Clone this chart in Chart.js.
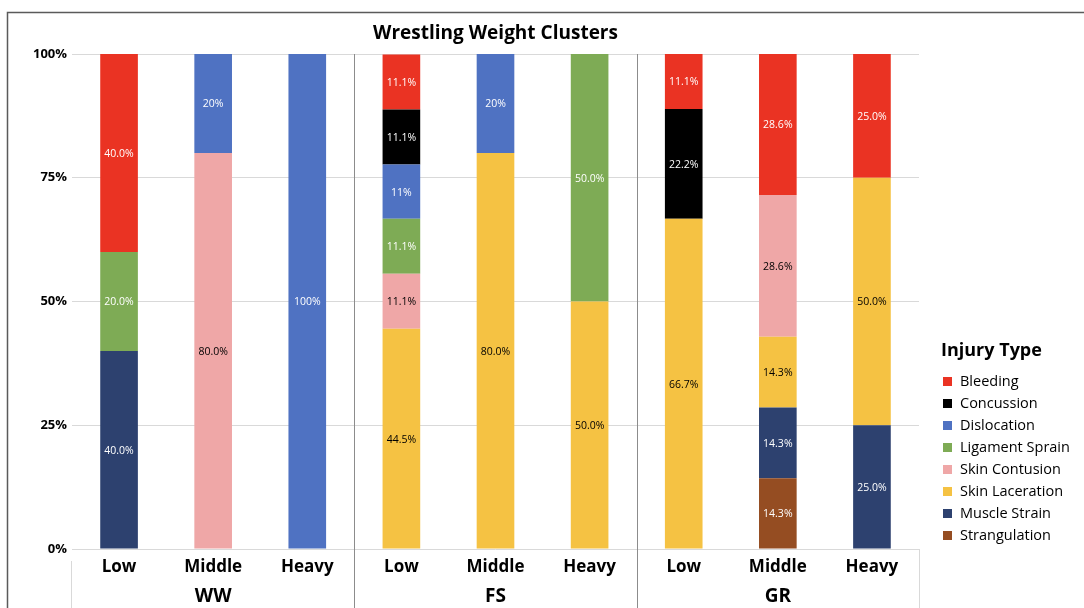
<!DOCTYPE html>
<html><head><meta charset="utf-8">
<script src="https://cdn.jsdelivr.net/npm/chart.js@4.4.1/dist/chart.umd.min.js"></script>
<style>html,body{margin:0;padding:0;background:#fff;overflow:hidden}#wrap{position:absolute;left:0;top:0;width:1084px;height:608px}</style>
</head><body><div id="wrap"><canvas id="c" width="1084" height="608"></canvas></div>
<script>
const categories = ['Low','Middle','Heavy','Low','Middle','Heavy','Low','Middle','Heavy'];
const groups = ['WW','FS','GR'];
const yTicks = [0,25,50,75,100];

const bleeding      = [40, null, null, 11.1, null, null, 11.1, 28.6, 25];
const concussion    = [null, null, null, 11.1, null, null, 22.2, null, null];
const dislocation   = [null, 20, 100, 11, 20, null, null, null, null];
const ligament      = [20, null, null, 11.1, null, 50, null, null, null];
const contusion     = [null, 80, null, 11.1, null, null, null, 28.6, null];
const laceration    = [null, null, null, 44.5, 80, 50, 66.7, 14.3, 50];
const muscle        = [40, null, null, null, null, null, null, 14.3, 25];
const strangulation = [null, null, null, null, null, null, null, 14.3, null];

const FONT = "'Open Sans', 'DejaVu Sans', sans-serif";

// stacking order: first = bottom
const series = [
  {label:'Strangulation',   data:strangulation, color:'#954D22', lbl:'#ffffff', dec:1},
  {label:'Muscle Strain',   data:muscle,        color:'#2D416F', lbl:'#ffffff', dec:1},
  {label:'Skin Laceration', data:laceration,    color:'#F5C243', lbl:'#000000', dec:1},
  {label:'Skin Contusion',  data:contusion,     color:'#EFA7A7', lbl:'#000000', dec:1},
  {label:'Ligament Sprain', data:ligament,      color:'#7EAB55', lbl:'#ffffff', dec:1},
  {label:'Dislocation',     data:dislocation,   color:'#4F72C2', lbl:'#ffffff', dec:0},
  {label:'Concussion',      data:concussion,    color:'#000000', lbl:'#ffffff', dec:1},
  {label:'Bleeding',        data:bleeding,      color:'#EA3323', lbl:'#ffffff', dec:1}
];

const decorPlugin = {
  id:'decor',
  beforeDraw(chart){
    const ctx = chart.ctx;
    ctx.save();
    ctx.fillStyle='#fff';
    ctx.fillRect(0,0,chart.width,chart.height);
    ctx.restore();
  },
  afterDatasetsDraw(chart){
    const ctx = chart.ctx;
    ctx.save();
    ctx.font = "10.5px " + FONT;
    ctx.textAlign='center';
    ctx.textBaseline='middle';
    chart.data.datasets.forEach((ds, di) => {
      const meta = chart.getDatasetMeta(di);
      meta.data.forEach((bar, i) => {
        const v = ds.data[i];
        if (v === null || v === undefined) return;
        const s = series[di];
        ctx.fillStyle = s.lbl;
        ctx.fillText(v.toFixed(s.dec) + '%', bar.x, (bar.y + bar.base)/2 + 1);
      });
    });
    ctx.restore();
  },
  afterDraw(chart){
    const ctx = chart.ctx;
    const x = chart.scales.x;
    const area = chart.chartArea;
    ctx.save();
    // outer border
    ctx.strokeStyle='#5a5a5a';
    ctx.lineWidth=1.5;
    ctx.beginPath();
    ctx.moveTo(7.5, chart.height+2);
    ctx.lineTo(7.5, 12.5);
    ctx.lineTo(chart.width+2, 12.5);
    ctx.stroke();
    // group separators
    ctx.lineWidth=1;
    ctx.strokeStyle='#8c8c8c';
    for (let g=1; g<groups.length; g++){
      const xs = Math.round((x.getPixelForValue(g*3-1) + x.getPixelForValue(g*3))/2) + 0.5;
      ctx.beginPath(); ctx.moveTo(xs, area.top); ctx.lineTo(xs, chart.height); ctx.stroke();
    }
    ctx.strokeStyle='#d9d9d9';
    ctx.beginPath(); ctx.moveTo(Math.round(area.left)-0.5, area.bottom+12); ctx.lineTo(Math.round(area.left)-0.5, chart.height); ctx.stroke();
    ctx.beginPath(); ctx.moveTo(Math.round(area.right)+0.5, area.bottom); ctx.lineTo(Math.round(area.right)+0.5, chart.height); ctx.stroke();
    // group labels
    ctx.fillStyle='#000';
    ctx.font = "bold 19px " + FONT;
    ctx.textAlign='center';
    ctx.textBaseline='middle';
    groups.forEach((g, gi) => {
      ctx.fillText(g, x.getPixelForValue(gi*3+1), 597);
    });
    // legend
    ctx.textAlign='left';
    ctx.font = "bold 18px " + FONT;
    ctx.fillText('Injury Type', 941, 351);
    ctx.font = "14.5px " + FONT;
    const n = chart.data.datasets.length;
    for (let k=0; k<n; k++){
      const ds = chart.data.datasets[n-1-k];
      const cy = 381 + 22*k;
      ctx.fillStyle = ds.backgroundColor;
      ctx.fillRect(943, cy-4, 9, 9);
      ctx.fillStyle = '#000';
      ctx.fillText(ds.label, 960, cy+1);
    }
    ctx.restore();
  }
};

new Chart(document.getElementById('c'), {
  type:'bar',
  data:{
    labels: categories,
    datasets: series.map(s => ({
      label: s.label, data: s.data, backgroundColor: s.color,
      borderWidth: 0, barPercentage: 0.4, categoryPercentage: 1.0
    }))
  },
  options:{
    responsive:false,
    animation:false,
    layout:{padding:{left:8, right:165, top:12, bottom:0}},
    plugins:{
      legend:{display:false},
      tooltip:{enabled:false},
      title:{
        display:true, text:'Wrestling Weight Clusters', fullSize:false,
        color:'#000', font:{family:FONT, size:19, weight:'bold', lineHeight:1.2},
        padding:{top:10, bottom:9.2}
      }
    },
    scales:{
      x:{
        stacked:true,
        grid:{display:false, drawTicks:false},
        border:{display:false},
        ticks:{color:'#000', font:{family:FONT, size:17, weight:'bold'}, padding:8, maxRotation:0, autoSkip:false},
        afterFit(scale){ scale.height = 59; }
      },
      y:{
        stacked:true, min:0, max:100,
        afterBuildTicks(scale){ scale.ticks = yTicks.map(v => ({value:v})); },
        grid:{color:'#d9d9d9', drawTicks:false, lineWidth:1},
        border:{display:false},
        ticks:{color:'#000', font:{family:FONT, size:13, weight:'bold'}, padding:5, callback:v => v + '%'},
        afterFit(scale){ scale.width = 64; }
      }
    }
  },
  plugins:[decorPlugin]
});
</script>
</body></html>
